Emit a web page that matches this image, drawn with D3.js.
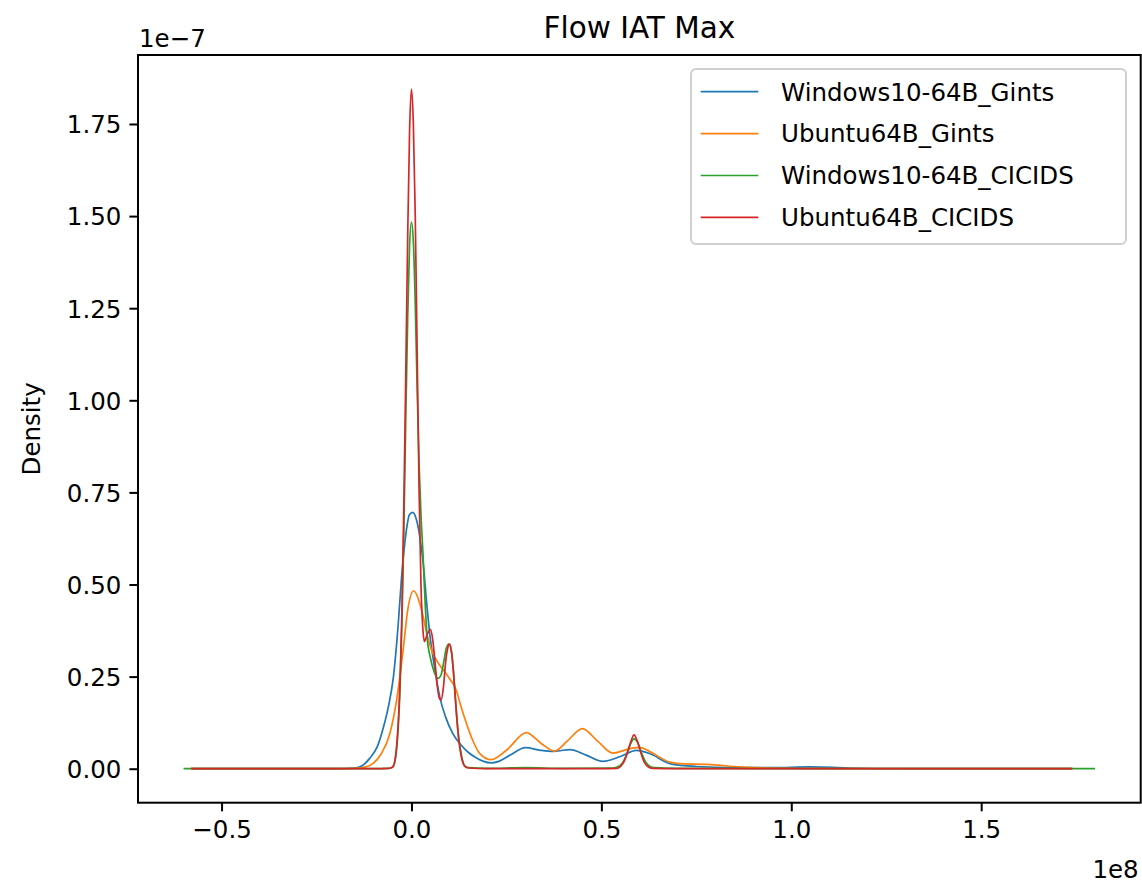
<!DOCTYPE html>
<html>
<head>
<meta charset="utf-8">
<script src="https://cdn.jsdelivr.net/npm/d3@7"></script>
<style>
  html, body { margin: 0; padding: 0; background: #fff; }
  svg { display: block; font-family: "DejaVu Sans", sans-serif; }
</style>
</head>
<body>
<svg id="chart" width="1142" height="883"></svg>
<script>
// ---- Data (x in units of 1e8, density in units of 1e-7) ----
const seriesNames = ["Windows10-64B_Gints", "Ubuntu64B_Gints", "Windows10-64B_CICIDS", "Ubuntu64B_CICIDS"];
const seriesColors = ["#1f77b4", "#ff7f0e", "#2ca02c", "#d62728"];

const win10Gints = [[-0.58,0],[-0.2,0],[-0.15,0.002],[-0.13,0.008],[-0.11,0.028],[-0.09,0.06],[-0.075,0.108],[-0.06,0.172],[-0.048,0.245],[-0.035,0.39],[-0.026,0.52],[-0.015,0.635],[-0.005,0.69],[0.003,0.696],[0.012,0.68],[0.022,0.63],[0.031,0.557],[0.04,0.45],[0.048,0.367],[0.06,0.28],[0.0745,0.195],[0.09,0.14],[0.109,0.095],[0.13,0.065],[0.15,0.044],[0.17,0.03],[0.19,0.02],[0.21,0.016],[0.23,0.02],[0.26,0.037],[0.3,0.057],[0.34,0.05],[0.373,0.047],[0.417,0.052],[0.46,0.037],[0.504,0.02],[0.55,0.033],[0.592,0.05],[0.63,0.04],[0.68,0.014],[0.75,0.006],[0.85,0.003],[0.95,0.003],[1.05,0.005],[1.15,0.002],[1.3,0.0005],[1.74,0]];

const ubuntuGints = [[-0.58,0],[-0.2,0],[-0.15,0.001],[-0.12,0.005],[-0.1,0.015],[-0.08,0.04],[-0.057,0.095],[-0.04,0.18],[-0.022,0.321],[-0.01,0.43],[0.006,0.483],[0.02,0.455],[0.031,0.412],[0.042,0.36],[0.053,0.321],[0.0745,0.281],[0.09,0.26],[0.1,0.245],[0.118,0.213],[0.13,0.17],[0.145,0.122],[0.16,0.08],[0.18,0.041],[0.21,0.0245],[0.25,0.05],[0.3026,0.098],[0.34,0.07],[0.377,0.048],[0.41,0.075],[0.45,0.1087],[0.49,0.075],[0.53,0.0424],[0.578,0.055],[0.6,0.058],[0.63,0.045],[0.68,0.018],[0.72,0.013],[0.78,0.012],[0.85,0.006],[0.95,0.002],[1.1,0.0005],[1.74,0]];

const win10Cicids = [[-0.6,0],[-0.2,0],[-0.1,0],[-0.06,0.001],[-0.05,0.004],[-0.045,0.014],[-0.04,0.045],[-0.035,0.11],[-0.03,0.22],[-0.025,0.40],[-0.02,0.65],[-0.015,0.95],[-0.01,1.22],[-0.005,1.42],[0,1.484],[0.005,1.43],[0.01,1.26],[0.015,1.03],[0.02,0.83],[0.025,0.69],[0.03,0.59],[0.036,0.45],[0.041,0.36],[0.05,0.30],[0.06,0.262],[0.07,0.245],[0.078,0.255],[0.085,0.29],[0.092,0.328],[0.099,0.338],[0.105,0.32],[0.11,0.27],[0.115,0.2],[0.12,0.13],[0.125,0.08],[0.13,0.045],[0.135,0.02],[0.14,0.008],[0.15,0.003],[0.2,0.001],[0.3,0.003],[0.4,0.001],[0.53,0.002],[0.545,0.006],[0.555,0.015],[0.565,0.035],[0.575,0.063],[0.586,0.081],[0.597,0.068],[0.607,0.04],[0.617,0.018],[0.627,0.007],[0.64,0.003],[0.7,0.001],[1.0,0],[1.8,0]];

const ubuntuCicids = [[-0.58,0],[-0.2,0],[-0.1,0],[-0.06,0.001],[-0.05,0.004],[-0.045,0.015],[-0.04,0.05],[-0.035,0.12],[-0.03,0.24],[-0.025,0.43],[-0.02,0.72],[-0.015,1.07],[-0.01,1.44],[-0.005,1.73],[0,1.845],[0.005,1.75],[0.01,1.5],[0.015,1.13],[0.02,0.76],[0.025,0.5],[0.03,0.38],[0.034,0.345],[0.04,0.36],[0.045,0.372],[0.05,0.378],[0.056,0.35],[0.062,0.29],[0.068,0.225],[0.074,0.19],[0.078,0.186],[0.084,0.22],[0.09,0.29],[0.095,0.325],[0.1,0.338],[0.105,0.32],[0.11,0.27],[0.115,0.2],[0.12,0.13],[0.125,0.075],[0.13,0.04],[0.135,0.018],[0.14,0.007],[0.15,0.002],[0.2,0],[0.5,0],[0.54,0.001],[0.55,0.006],[0.56,0.02],[0.57,0.048],[0.578,0.075],[0.586,0.092],[0.594,0.077],[0.602,0.05],[0.612,0.02],[0.622,0.006],[0.635,0.001],[0.7,0],[1.0,0],[1.74,0]];

const seriesData = [win10Gints, ubuntuGints, win10Cicids, ubuntuCicids];

const xTicks = [-0.5, 0.0, 0.5, 1.0, 1.5];
const yTicks = [0.00, 0.25, 0.50, 0.75, 1.00, 1.25, 1.50, 1.75];
const titleText = "Flow IAT Max";
const yLabelText = "Density";
const xOffsetText = "1e8";
const yOffsetText = "1e\u22127";

// ---- Layout ----
const svg = d3.select("#chart");
const plot = { left: 138, right: 1140.7, top: 55, bottom: 802.7 };
const fontSize = 24.5;

const allPts = seriesData.flat();
const xExt = d3.extent(allPts, d => d[0]);
const yExt = d3.extent(allPts, d => d[1]);
const xPad = (xExt[1] - xExt[0]) * 0.05;
const yPad = (yExt[1] - yExt[0]) * 0.05;

const x = d3.scaleLinear().domain([xExt[0] - xPad, xExt[1] + xPad]).range([plot.left, plot.right]);
const y = d3.scaleLinear().domain([yExt[0] - yPad, yExt[1] + yPad]).range([plot.bottom, plot.top]);

const fmtMinus = s => s.replace("-", "\u2212");

// Curves (clipped to axes)
svg.append("defs").append("clipPath").attr("id", "clip")
  .append("rect").attr("x", plot.left).attr("y", plot.top)
  .attr("width", plot.right - plot.left).attr("height", plot.bottom - plot.top);

const line = d3.line().x(d => x(d[0])).y(d => y(d[1])).curve(d3.curveMonotoneX);
const gLines = svg.append("g").attr("clip-path", "url(#clip)");
seriesData.forEach((s, i) => {
  gLines.append("path").datum(s)
    .attr("d", line)
    .attr("fill", "none")
    .attr("stroke", seriesColors[i])
    .attr("stroke-width", 1.7)
    .attr("stroke-linejoin", "round");
});

// Axes
const xAxis = d3.axisBottom(x).tickValues(xTicks).tickSize(8.6).tickPadding(8)
  .tickFormat(d => fmtMinus(d3.format(".1f")(d)));
const yAxis = d3.axisLeft(y).tickValues(yTicks).tickSize(8.6).tickPadding(8)
  .tickFormat(d => fmtMinus(d3.format(".2f")(d)));

const gx = svg.append("g").attr("transform", `translate(0,${plot.bottom})`).call(xAxis);
const gy = svg.append("g").attr("transform", `translate(${plot.left},0)`).call(yAxis);
[gx, gy].forEach(g => {
  g.select(".domain").remove();
  g.selectAll(".tick line").attr("stroke", "#000").attr("stroke-width", 2);
  g.selectAll(".tick text").attr("fill", "#000").attr("font-size", fontSize)
    .attr("font-family", "DejaVu Sans, sans-serif");
});
gx.selectAll(".tick text").attr("dy", "0.76em");
gy.selectAll(".tick text").attr("dy", "0.36em");

// Frame
svg.append("rect")
  .attr("x", plot.left).attr("y", plot.top)
  .attr("width", plot.right - plot.left).attr("height", plot.bottom - plot.top)
  .attr("fill", "none").attr("stroke", "#000").attr("stroke-width", 2);

// Title
svg.append("text").attr("x", (plot.left + plot.right) / 2).attr("y", 38)
  .attr("text-anchor", "middle").attr("font-size", 29.5).attr("fill", "#000")
  .text(titleText);

// Y label
svg.append("text")
  .attr("transform", `translate(40,${(plot.top + plot.bottom) / 2}) rotate(-90)`)
  .attr("text-anchor", "middle").attr("font-size", fontSize).attr("fill", "#000")
  .text(yLabelText);

// Offset texts
svg.append("text").attr("x", plot.left + 1).attr("y", 46.5)
  .attr("font-size", fontSize).attr("fill", "#000").text(yOffsetText);
svg.append("text").attr("x", plot.right - 2).attr("y", 878)
  .attr("text-anchor", "end").attr("font-size", fontSize).attr("fill", "#000").text(xOffsetText);

// Legend
const leg = { x: 691, y: 69, w: 435, h: 175, rowY0: 91.7, rowStep: 41.9, lineX0: 700.7, lineX1: 758.3, textX: 781 };
svg.append("rect").attr("x", leg.x).attr("y", leg.y).attr("width", leg.w).attr("height", leg.h)
  .attr("rx", 5).attr("fill", "#fff").attr("fill-opacity", 0.8)
  .attr("stroke", "#d0d0d0").attr("stroke-width", 2);
seriesNames.forEach((name, i) => {
  const yy = leg.rowY0 + i * leg.rowStep;
  svg.append("line").attr("x1", leg.lineX0).attr("x2", leg.lineX1).attr("y1", yy).attr("y2", yy)
    .attr("stroke", seriesColors[i]).attr("stroke-width", 1.7);
  svg.append("text").attr("x", leg.textX).attr("y", yy).attr("dy", "0.36em")
    .attr("font-size", fontSize).attr("fill", "#000").text(name);
});
</script>
</body>
</html>
